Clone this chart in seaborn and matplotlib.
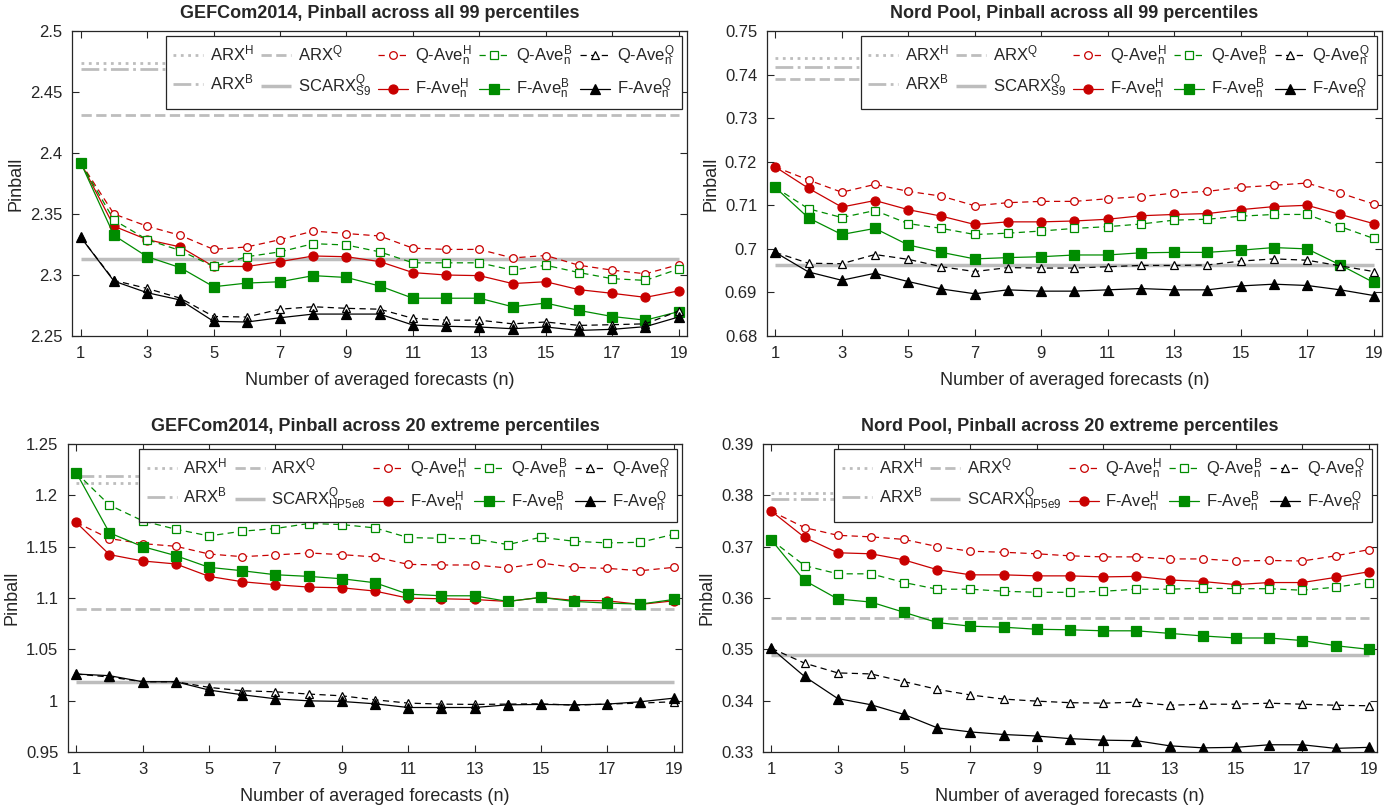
import matplotlib
matplotlib.use("Agg")
import matplotlib.pyplot as plt
import seaborn as sns
from matplotlib.ticker import FormatStrFormatter

n = list(range(1, 20))

# GEFCom2014, Pinball across all 99 percentiles
gef99_qh = [2.392, 2.350, 2.340, 2.3325, 2.321, 2.323, 2.329, 2.336, 2.334, 2.332,
            2.322, 2.321, 2.321, 2.314, 2.316, 2.308, 2.304, 2.301, 2.3085]
gef99_fh = [2.392, 2.340, 2.329, 2.323, 2.307, 2.307, 2.311, 2.3156, 2.315, 2.311,
            2.302, 2.300, 2.2995, 2.293, 2.2945, 2.288, 2.285, 2.2817, 2.287]
gef99_qb = [2.392, 2.345, 2.329, 2.320, 2.307, 2.315, 2.319, 2.3257, 2.3246, 2.319,
            2.310, 2.310, 2.310, 2.304, 2.308, 2.302, 2.297, 2.2956, 2.305]
gef99_fb = [2.392, 2.3325, 2.315, 2.306, 2.2904, 2.2934, 2.2945, 2.2995, 2.298, 2.291,
            2.281, 2.281, 2.281, 2.274, 2.277, 2.271, 2.266, 2.263, 2.270]
gef99_qq = [2.331, 2.2956, 2.289, 2.281, 2.266, 2.2656, 2.272, 2.274, 2.2727, 2.272,
            2.2645, 2.263, 2.263, 2.260, 2.2615, 2.2587, 2.2593, 2.260, 2.2705]
gef99_fq = [2.331, 2.295, 2.2855, 2.2795, 2.262, 2.2615, 2.265, 2.268, 2.268, 2.268,
            2.259, 2.258, 2.2574, 2.256, 2.2574, 2.2546, 2.2555, 2.2577, 2.2656]
gef99_ref = [2.4735, 2.469, 2.431, 2.3134]   # ARX^H, ARX^B, ARX^Q, SCARX

# Nord Pool, Pinball across all 99 percentiles
np99_qh = [0.7188, 0.7158, 0.7130, 0.7148, 0.7132, 0.7121, 0.7099, 0.7106, 0.7109, 0.7109,
           0.7115, 0.7120, 0.7128, 0.7132, 0.7141, 0.7146, 0.7151, 0.7128, 0.7103]
np99_fh = [0.7188, 0.7139, 0.7096, 0.7111, 0.7090, 0.7075, 0.7056, 0.7062, 0.7062, 0.7064,
           0.7068, 0.7076, 0.7079, 0.7081, 0.7090, 0.7097, 0.7100, 0.7079, 0.7058]
np99_qb = [0.7141, 0.7092, 0.7072, 0.7088, 0.7058, 0.7047, 0.7033, 0.7036, 0.7041, 0.7047,
           0.7051, 0.7057, 0.7066, 0.7068, 0.7075, 0.7079, 0.7079, 0.7051, 0.7024]
np99_fb = [0.7141, 0.7071, 0.7033, 0.7047, 0.7009, 0.6992, 0.6977, 0.6980, 0.6982, 0.6986,
           0.6986, 0.6991, 0.6992, 0.6992, 0.6997, 0.7003, 0.7000, 0.6963, 0.6923]
np99_qq = [0.6992, 0.6967, 0.6966, 0.6987, 0.6976, 0.6959, 0.6948, 0.6957, 0.6956, 0.6956,
           0.6959, 0.6962, 0.6962, 0.6963, 0.6972, 0.6977, 0.6974, 0.6961, 0.6948]
np99_fq = [0.6992, 0.6947, 0.6928, 0.6944, 0.6925, 0.6908, 0.6897, 0.6906, 0.6903, 0.6903,
           0.6906, 0.6909, 0.6906, 0.6906, 0.6915, 0.6919, 0.6916, 0.6906, 0.6893]
np99_ref = [0.7439, 0.7418, 0.7390, 0.6962]

# GEFCom2014, Pinball across 20 extreme percentiles
gef20_qh = [1.1735, 1.1578, 1.1529, 1.1503, 1.1428, 1.1402, 1.1419, 1.1438, 1.1422, 1.1399,
            1.1327, 1.1321, 1.1321, 1.1292, 1.1340, 1.1298, 1.1288, 1.1265, 1.1298]
gef20_fh = [1.1735, 1.1422, 1.1360, 1.1331, 1.1210, 1.1158, 1.1129, 1.1106, 1.1099, 1.1067,
            1.0998, 1.0992, 1.0985, 1.0966, 1.1005, 1.0976, 1.0972, 1.0937, 1.0972]
gef20_qb = [1.2220, 1.1904, 1.1751, 1.1669, 1.1604, 1.1650, 1.1676, 1.1725, 1.1715, 1.1682,
            1.1588, 1.1581, 1.1575, 1.1520, 1.1591, 1.1552, 1.1536, 1.1542, 1.1620]
gef20_fb = [1.2220, 1.1634, 1.1500, 1.1412, 1.1298, 1.1265, 1.1226, 1.1210, 1.1187, 1.1148,
            1.1037, 1.1021, 1.1021, 1.0966, 1.1005, 1.0966, 1.0950, 1.0940, 1.0985]
gef20_qq = [1.0259, 1.0230, 1.0184, 1.0184, 1.0129, 1.0096, 1.0086, 1.0064, 1.0047, 1.0008,
            0.9976, 0.9966, 0.9963, 0.9966, 0.9969, 0.9956, 0.9966, 0.9976, 0.9989]
gef20_fq = [1.0259, 1.0243, 1.0184, 1.0184, 1.0103, 1.0057, 1.0018, 0.9998, 0.9992, 0.9969,
            0.9933, 0.9933, 0.9933, 0.9959, 0.9963, 0.9959, 0.9966, 0.9989, 1.0024]
gef20_ref = [1.2119, 1.2187, 1.0891, 1.0184]

# Nord Pool, Pinball across 20 extreme percentiles
np20_qh = [0.3769, 0.3737, 0.3722, 0.3719, 0.3714, 0.3700, 0.3691, 0.3689, 0.3686, 0.3682,
           0.3680, 0.3680, 0.3676, 0.3676, 0.3672, 0.3673, 0.3672, 0.3682, 0.3694]
np20_fh = [0.3769, 0.3718, 0.3688, 0.3686, 0.3674, 0.3655, 0.3645, 0.3645, 0.3643, 0.3643,
           0.3641, 0.3642, 0.3635, 0.3632, 0.3626, 0.3630, 0.3630, 0.3640, 0.3651]
np20_qb = [0.3713, 0.3663, 0.3647, 0.3647, 0.3630, 0.3617, 0.3617, 0.3613, 0.3611, 0.3611,
           0.3613, 0.3617, 0.3617, 0.3619, 0.3618, 0.3618, 0.3615, 0.3621, 0.3630]
np20_fb = [0.3713, 0.3634, 0.3598, 0.3592, 0.3572, 0.3552, 0.3545, 0.3543, 0.3539, 0.3538,
           0.3536, 0.3536, 0.3531, 0.3526, 0.3522, 0.3522, 0.3517, 0.3507, 0.3500]
np20_qq = [0.3502, 0.3473, 0.3454, 0.3452, 0.3437, 0.3422, 0.3411, 0.3403, 0.3399, 0.3396,
           0.3395, 0.3397, 0.3391, 0.3393, 0.3393, 0.3395, 0.3393, 0.3391, 0.3390]
np20_fq = [0.3502, 0.3447, 0.3404, 0.3392, 0.3373, 0.3347, 0.3339, 0.3334, 0.3331, 0.3326,
           0.3323, 0.3322, 0.3312, 0.3308, 0.3309, 0.3314, 0.3314, 0.3307, 0.3309]
np20_ref = [0.3804, 0.3792, 0.3560, 0.3488]

titles = ["GEFCom2014, Pinball across all 99 percentiles",
          "Nord Pool, Pinball across all 99 percentiles",
          "GEFCom2014, Pinball across 20 extreme percentiles",
          "Nord Pool, Pinball across 20 extreme percentiles"]
scarx_sub = ["S9", "S9", "HP5e8", "HP5e9"]
ylims = [(2.25, 2.5), (0.68, 0.75), (0.95, 1.25), (0.33, 0.39)]
ysteps = [0.05, 0.01, 0.05, 0.01]

sns.set_style("ticks")
plt.rcParams["font.family"] = ["Liberation Sans", "DejaVu Sans"]
plt.rcParams["mathtext.fontset"] = "custom"
plt.rcParams["mathtext.rm"] = "Liberation Sans"
plt.rcParams["mathtext.it"] = "Liberation Sans:italic"
plt.rcParams["mathtext.bf"] = "Liberation Sans:bold"

RED = "#c80000"
GREEN = "#008c00"
BLACK = "#000000"
GRAY = "#bdbdbd"
AXC = "#262626"

panels = [
    (gef99_qh, gef99_fh, gef99_qb, gef99_fb, gef99_qq, gef99_fq, gef99_ref),
    (np99_qh, np99_fh, np99_qb, np99_fb, np99_qq, np99_fq, np99_ref),
    (gef20_qh, gef20_fh, gef20_qb, gef20_fb, gef20_qq, gef20_fq, gef20_ref),
    (np20_qh, np20_fh, np20_qb, np20_fb, np20_qq, np20_fq, np20_ref),
]
positions = [
    [0.0519, 0.5836, 0.4402, 0.3780],
    [0.5494, 0.5836, 0.4405, 0.3780],
    [0.0487, 0.0682, 0.4398, 0.3817],
    [0.5466, 0.0682, 0.4398, 0.3817],
]

fig = plt.figure(figsize=(13.96, 8.07), dpi=100)

for i, (qh, fh, qb, fb, qq, fq, ref) in enumerate(panels):
    ax = fig.add_axes(positions[i])
    dash = (0, (5, 3.5))

    # horizontal benchmark lines
    h_arxh = ax.hlines(ref[0], n[0], n[-1], colors=GRAY, linestyles=":", linewidth=2)
    h_arxb = ax.hlines(ref[1], n[0], n[-1], colors=GRAY, linestyles="-.", linewidth=2)
    h_arxq = ax.hlines(ref[2], n[0], n[-1], colors=GRAY, linestyles="--", linewidth=2)
    h_scarx = ax.hlines(ref[3], n[0], n[-1], colors=GRAY, linestyles="-", linewidth=2.5)

    series = [
        (qh, RED, "o", "white", dash, 5.5),
        (fh, RED, "o", RED, "-", 6.5),
        (qb, GREEN, "s", "white", dash, 5.5),
        (fb, GREEN, "s", GREEN, "-", 6.5),
        (qq, BLACK, "^", "white", dash, 6),
        (fq, BLACK, "^", BLACK, "-", 6.5),
    ]
    handles = []
    for vals, col, mk, mfc, ls, ms in series:
        sns.lineplot(x=n, y=vals, ax=ax, color=col, linestyle=ls, linewidth=0.9,
                     marker=mk, markersize=ms, markerfacecolor=mfc,
                     markeredgecolor=col, markeredgewidth=0.9)
        handles.append(ax.get_lines()[-1])

    labels = [r"ARX$^{\mathrm{H}}$", r"ARX$^{\mathrm{B}}$",
              r"ARX$^{\mathrm{Q}}$", r"SCARX$^{\mathrm{Q}}_{\mathrm{%s}}$" % scarx_sub[i],
              r"Q-Ave$^{\mathrm{H}}_{\mathrm{n}}$", r"F-Ave$^{\mathrm{H}}_{\mathrm{n}}$",
              r"Q-Ave$^{\mathrm{B}}_{\mathrm{n}}$", r"F-Ave$^{\mathrm{B}}_{\mathrm{n}}$",
              r"Q-Ave$^{\mathrm{Q}}_{\mathrm{n}}$", r"F-Ave$^{\mathrm{Q}}_{\mathrm{n}}$"]
    all_handles = [h_arxh, h_arxb, h_arxq, h_scarx,
                   handles[0], handles[1], handles[2], handles[3], handles[4], handles[5]]
    leg = ax.legend(all_handles, labels, ncol=5, loc="upper right", fontsize=12,
                    frameon=True, fancybox=False, framealpha=1, edgecolor=AXC,
                    borderaxespad=0.3, handlelength=1.8, handletextpad=0.4,
                    columnspacing=0.45, labelspacing=0.55, borderpad=0.45)
    leg.get_frame().set_linewidth(0.9)
    leg.set_zorder(10)

    ax.set_xlim(0.75, 19.25)
    ax.set_ylim(*ylims[i])
    ax.set_xticks(n[::2])
    lo, hi = ylims[i]
    k = round((hi - lo) / ysteps[i])
    ax.set_yticks([lo + j * ysteps[i] for j in range(k + 1)])
    ax.yaxis.set_major_formatter(FormatStrFormatter("%g"))
    ax.tick_params(direction="in", top=True, right=True, length=5, width=0.8,
                   colors=AXC, labelsize=12, pad=7)
    for sp in ax.spines.values():
        sp.set_color(AXC)
        sp.set_linewidth(0.9)
    ax.set_title(titles[i], fontsize=13, fontweight="bold", pad=9)
    ax.set_xlabel("Number of averaged forecasts (n)", fontsize=13, color=AXC, labelpad=8)
    ax.set_ylabel("Pinball", fontsize=13, color=AXC, labelpad=4)

fig.savefig("out.png", dpi=100)
